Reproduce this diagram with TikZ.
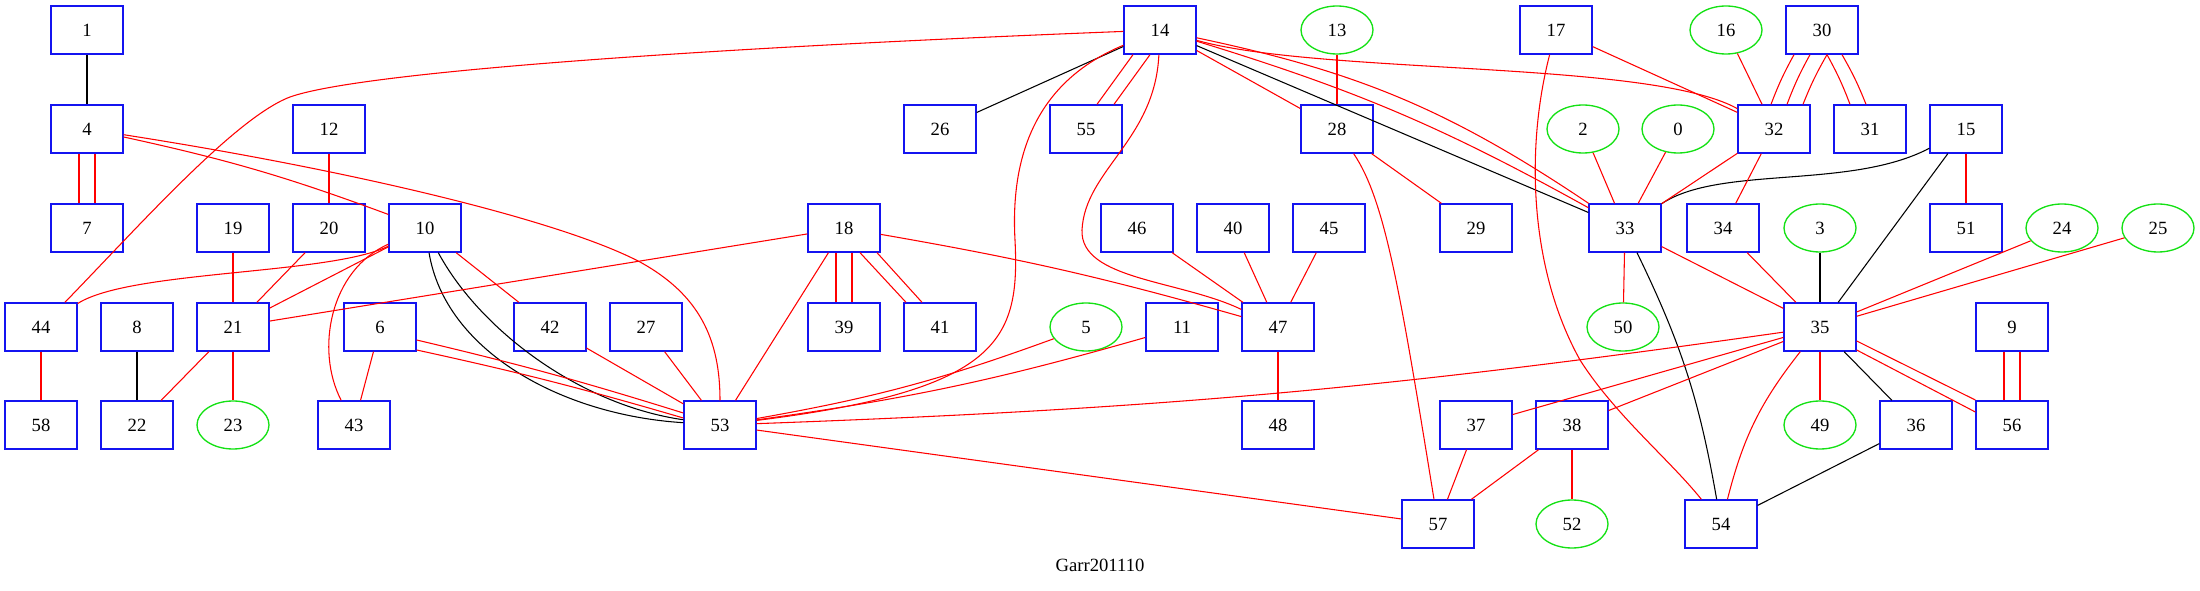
\documentclass[tikz,border=0pt]{standalone}
\usepackage{fontspec}
\setmainfont{Liberation Serif}
\usetikzlibrary{shapes.geometric}
\definecolor{gvred}{RGB}{255,0,0}
\definecolor{gvblue}{RGB}{20,20,240}
\definecolor{gvgreen}{RGB}{20,225,20}

\begin{document}
\begin{tikzpicture}[x=0.75pt, y=0.75pt,
    swnode/.style={draw=gvblue, line width=1pt, rectangle, minimum width=54pt, minimum height=36pt, inner sep=0pt, font=\fontsize{14}{16}\selectfont},
    hostnode/.style={draw=gvgreen, line width=1pt, ellipse, minimum width=54pt, minimum height=36pt, inner sep=0pt, font=\fontsize{14}{16}\selectfont},
    redlink/.style={gvred, line width=0.8pt},
    blacklink/.style={black, line width=0.8pt}]
    \useasboundingbox (0,0) rectangle (2200,-591);

    % Row 1
    \node[swnode] (n1) at (87,-30) {1};
    \node[swnode] (n14) at (1160,-30) {14};
    \node[hostnode] (n13) at (1337,-30) {13};
    \node[swnode] (n17) at (1556,-30) {17};
    \node[hostnode] (n16) at (1726,-30) {16};
    \node[swnode] (n30) at (1822,-30) {30};

    % Row 2
    \node[swnode] (n4) at (87,-129) {4};
    \node[swnode] (n12) at (329,-129) {12};
    \node[swnode] (n26) at (940,-129) {26};
    \node[swnode] (n55) at (1086,-129) {55};
    \node[swnode] (n28) at (1337,-129) {28};
    \node[hostnode] (n2) at (1583,-129) {2};
    \node[hostnode] (n0) at (1678,-129) {0};
    \node[swnode] (n32) at (1774,-129) {32};
    \node[swnode] (n31) at (1870,-129) {31};
    \node[swnode] (n15) at (1966,-129) {15};

    % Row 3
    \node[swnode] (n7) at (87,-228) {7};
    \node[swnode] (n19) at (233,-228) {19};
    \node[swnode] (n20) at (329,-228) {20};
    \node[swnode] (n10) at (425,-228) {10};
    \node[swnode] (n18) at (844,-228) {18};
    \node[swnode] (n46) at (1137,-228) {46};
    \node[swnode] (n40) at (1233,-228) {40};
    \node[swnode] (n45) at (1329,-228) {45};
    \node[swnode] (n29) at (1476,-228) {29};
    \node[swnode] (n33) at (1625,-228) {33};
    \node[swnode] (n34) at (1723,-228) {34};
    \node[hostnode] (n3) at (1820,-228) {3};
    \node[swnode] (n51) at (1966,-228) {51};
    \node[hostnode] (n24) at (2062,-228) {24};
    \node[hostnode] (n25) at (2158,-228) {25};

    % Row 4
    \node[swnode] (n44) at (41,-327) {44};
    \node[swnode] (n8) at (137,-327) {8};
    \node[swnode] (n21) at (233,-327) {21};
    \node[swnode] (n6) at (380,-327) {6};
    \node[swnode] (n42) at (550,-327) {42};
    \node[swnode] (n27) at (646,-327) {27};
    \node[swnode] (n39) at (844,-327) {39};
    \node[swnode] (n41) at (940,-327) {41};
    \node[hostnode] (n5) at (1086,-327) {5};
    \node[swnode] (n11) at (1182,-327) {11};
    \node[swnode] (n47) at (1278,-327) {47};
    \node[hostnode] (n50) at (1623,-327) {50};
    \node[swnode] (n35) at (1820,-327) {35};
    \node[swnode] (n9) at (2012,-327) {9};

    % Row 5
    \node[swnode] (n58) at (41,-425) {58};
    \node[swnode] (n22) at (137,-425) {22};
    \node[hostnode] (n23) at (233,-425) {23};
    \node[swnode] (n43) at (354,-425) {43};
    \node[swnode] (n53) at (720,-425) {53};
    \node[swnode] (n48) at (1278,-425) {48};
    \node[swnode] (n37) at (1476,-425) {37};
    \node[swnode] (n38) at (1572,-425) {38};
    \node[hostnode] (n49) at (1820,-425) {49};
    \node[swnode] (n36) at (1916,-425) {36};
    \node[swnode] (n56) at (2012,-425) {56};

    % Row 6
    \node[swnode] (n57) at (1438,-524) {57};
    \node[hostnode] (n52) at (1572,-524) {52};
    \node[swnode] (n54) at (1721,-524) {54};

    \node[font=\fontsize{14}{16}\selectfont] (title) at (1100,-565) {Garr201110};

    % Black links
    \draw[blacklink] (n1) -- (n4);
    \draw[blacklink] (n8) -- (n22);
    \draw[blacklink] (n14) -- (n26);
    \draw[blacklink] (n14) -- (n33);
    \draw[blacklink] (n10) .. controls (445,-350) and (560,-415) .. (n53);
    \draw[blacklink] (n10) .. controls (480,-330) and (580,-405) .. (n53);
    \draw[blacklink] (n15) .. controls (1850,-190) and (1720,-165) .. (n33);
    \draw[blacklink] (n15) -- (n35);
    \draw[blacklink] (n3) -- (n35);
    \draw[blacklink] (n33) to[bend left=8] (n54);
    \draw[blacklink] (n35) -- (n36);
    \draw[blacklink] (n36) -- (n54);

    % Red links, left part
    \draw[redlink] ([xshift=-6pt]n4.south) -- ([xshift=-6pt]n7.north);
    \draw[redlink] ([xshift=6pt]n4.south) -- ([xshift=6pt]n7.north);
    \draw[redlink] (n4) to[bend left=4] (n10);
    \draw[redlink] (n4) .. controls (350,-170) and (560,-220) .. (640,-262) .. controls (700,-295) and (720,-340) .. (n53);
    \draw[redlink] (n12) -- (n20);
    \draw[redlink] (n19) -- (n21);
    \draw[redlink] (n20) -- (n21);
    \draw[redlink] (n10) -- (n21);
    \draw[redlink] (n10) .. controls (330,-275) and (130,-270) .. (n44);
    \draw[redlink] (n10) -- (n42);
    \draw[redlink] (n10) .. controls (330,-270) and (315,-350) .. (n43);
    \draw[redlink] (n44) -- (n58);
    \draw[redlink] (n21) -- (n22);
    \draw[redlink] (n21) -- (n23);
    \draw[redlink] (n6) -- (n43);
    \draw[redlink] ([yshift=-9.75pt]n6.east) to[bend left=2] ([yshift=9pt]n53.west);
    \draw[redlink] ([yshift=-17.25pt]n6.east) to[bend left=2] ([yshift=5.25pt]n53.west);
    \draw[redlink] (n42) -- (n53);
    \draw[redlink] (n27) -- (n53);

    % Red links from 14 and 18
    \draw[redlink] (n14) .. controls (700,-48) and (360,-72) .. (290,-97) .. controls (235,-118) and (140,-225) .. (n44);
    \draw[redlink] (n14) .. controls (1040,-80) and (1010,-150) .. (1015,-240) .. controls (1020,-340) and (1000,-390) .. (n53);
    \draw[redlink] (n14) .. controls (1155,-140) and (1085,-170) .. (1082,-230) .. controls (1080,-280) and (1180,-280) .. (n47);
    \draw[redlink] ([xshift=-20.25pt]n14.south) -- ([xshift=8.25pt]n55.north);
    \draw[redlink] ([xshift=-7.5pt]n14.south) -- ([xshift=21pt]n55.north);
    \draw[redlink] (n14) -- (n28);
    \draw[redlink] (n14) to[bend left=6] (n33);
    \draw[redlink] (n14) to[bend left=11] (n33);
    \draw[redlink] (n14) .. controls (1320,-75) and (1650,-60) .. (n32);
    \draw[redlink] (n18) -- (n21);
    \draw[redlink] (n18) -- (n53);
    \draw[redlink] ([xshift=-6pt]n18.south) -- ([xshift=-6pt]n39.north);
    \draw[redlink] ([xshift=6pt]n18.south) -- ([xshift=6pt]n39.north);
    \draw[redlink] ([xshift=12pt]n18.south) -- ([xshift=-25.5pt]n41.north);
    \draw[redlink] ([xshift=24.75pt]n18.south) -- ([xshift=-13.5pt]n41.north);
    \draw[redlink] (n18) to[bend left=3] (n47);
    \draw[redlink] (n46) -- (n47);
    \draw[redlink] (n40) -- (n47);
    \draw[redlink] (n45) -- (n47);
    \draw[redlink] (n47) -- (n48);
    \draw[redlink] (n5) to[bend left=5] (n53);
    \draw[redlink] (n11) to[bend left=4] (n53);
    \draw[redlink] (n53) -- (n57);

    % Red links, right part
    \draw[redlink] (n13) -- (n28);
    \draw[redlink] (n28) -- (n29);
    \draw[redlink] (n28) .. controls (1385,-200) and (1400,-290) .. (n57);
    \draw[redlink] (n17) -- (n32);
    \draw[redlink] (n17) .. controls (1525,-150) and (1530,-270) .. (1580,-360) .. controls (1615,-415) and (1670,-460) .. (n54);
    \draw[redlink] (n16) -- (n32);
    \draw[redlink] ([xshift=-21pt]n30.south) to[bend right=4] ([xshift=-2.25pt]n32.north);
    \draw[redlink] ([xshift=-9pt]n30.south) to[bend right=4] ([xshift=9.75pt]n32.north);
    \draw[redlink] ([xshift=3.75pt]n30.south) to[bend right=4] ([xshift=21.75pt]n32.north);
    \draw[redlink] ([xshift=3.75pt]n30.south) to[bend left=4] ([xshift=-15pt]n31.north);
    \draw[redlink] ([xshift=15pt]n30.south) to[bend left=4] ([xshift=-3pt]n31.north);
    \draw[redlink] (n2) -- (n33);
    \draw[redlink] (n0) -- (n33);
    \draw[redlink] (n32) -- (n33);
    \draw[redlink] (n32) -- (n34);
    \draw[redlink] (n15) -- (n51);
    \draw[redlink] (n33) -- (n50);
    \draw[redlink] (n33) -- (n35);
    \draw[redlink] (n34) -- (n35);
    \draw[redlink] (n24) -- (n35);
    \draw[redlink] (n25) -- (n35);
    \draw[redlink] (n35) to[bend left=3] (n53);
    \draw[redlink] (n35) -- (n37);
    \draw[redlink] (n35) -- (n38);
    \draw[redlink] (n35) -- (n49);
    \draw[redlink] (n35) to[bend right=12] (n54);
    \draw[redlink] ([yshift=-10.5pt]n35.east) -- ([yshift=18.75pt]n56.west);
    \draw[redlink] ([yshift=-17.25pt]n35.east) -- ([yshift=9.75pt]n56.west);
    \draw[redlink] ([xshift=-6pt]n9.south) -- ([xshift=-6pt]n56.north);
    \draw[redlink] ([xshift=6pt]n9.south) -- ([xshift=6pt]n56.north);
    \draw[redlink] (n37) -- (n57);
    \draw[redlink] (n38) -- (n57);
    \draw[redlink] (n38) -- (n52);
\end{tikzpicture}
\end{document}
